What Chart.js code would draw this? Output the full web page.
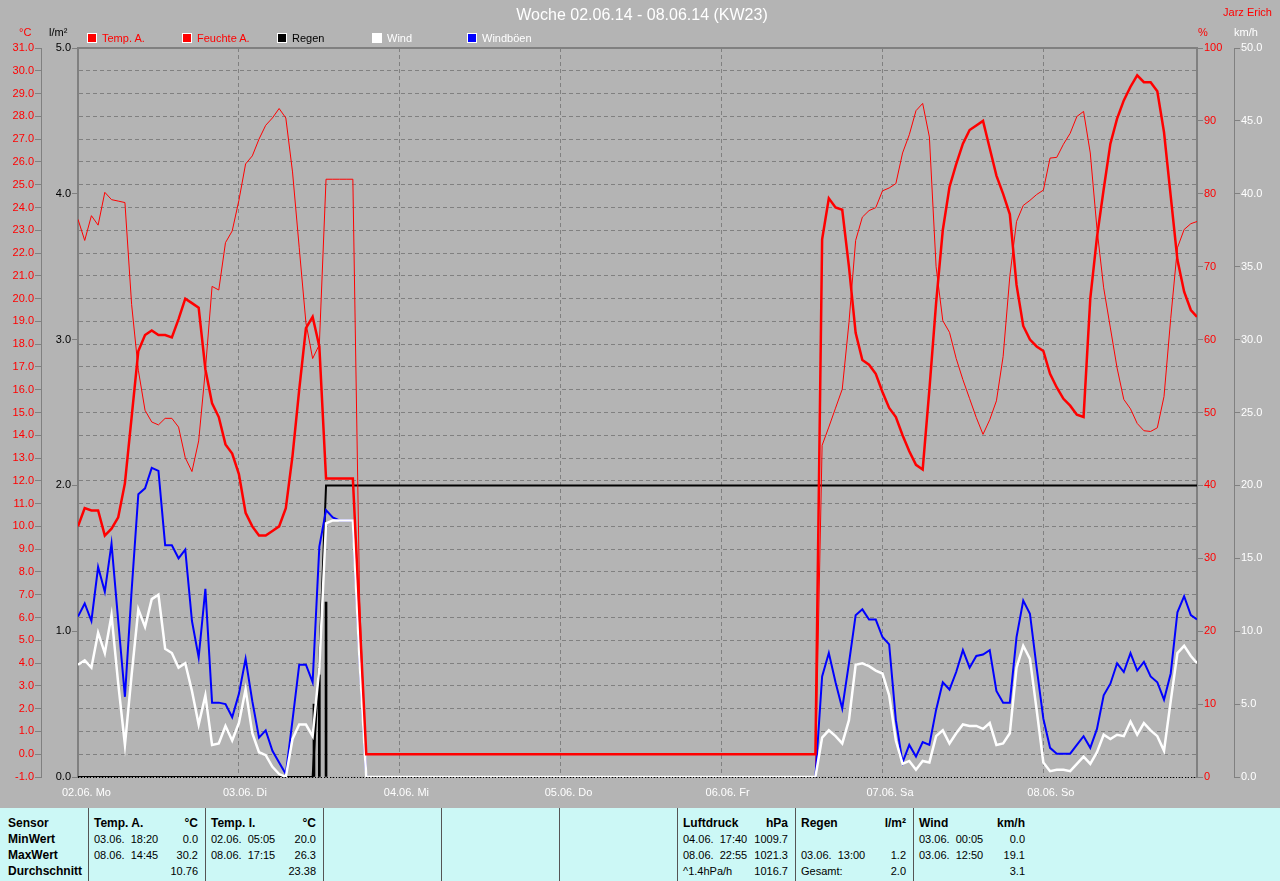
<!DOCTYPE html>
<html><head><meta charset="utf-8">
<script src="https://cdn.jsdelivr.net/npm/chart.js@4/dist/chart.umd.min.js"></script>
<style>
html,body{margin:0;padding:0;background:#b4b4b4;width:1280px;height:881px;overflow:hidden;font-family:"Liberation Sans",Arial,sans-serif;}
#wrap{position:relative;width:1280px;height:881px;}
#c{position:absolute;left:0;top:0;}
.t{position:absolute;white-space:pre;line-height:1;font-size:11px;}
.box{position:absolute;width:8px;height:8px;border:1px solid #fff;top:33px;}
#tbl{position:absolute;left:0;top:808px;width:1280px;height:73px;background:#ccf8f6;}
.col{position:absolute;top:0;height:73px;box-sizing:border-box;border-right:1px solid #555;}
.row{position:absolute;left:6px;right:7px;height:16px;line-height:16px;font-size:11px;color:#000;white-space:pre;}
.row .l{position:absolute;left:0;}
.row .r{position:absolute;right:0;}
.b{font-weight:bold;font-size:12px;}
</style></head>
<body><div id="wrap">
<canvas id="c" width="1280" height="808"></canvas>
<div class="t" style="left:0;width:1284px;text-align:center;top:7px;font-size:16px;color:#fff;">Woche 02.06.14 - 08.06.14 (KW23)</div>
<div class="t" style="right:8px;top:7px;color:#f00;">Jarz Erich</div>
<div class="t" style="left:19px;top:27px;color:#f00;">°C</div>
<div class="t" style="left:49px;top:27px;color:#000;">l/m²</div>
<div class="t" style="left:1198px;top:27px;color:#f00;">%</div>
<div class="t" style="left:1234px;top:27px;color:#fff;">km/h</div>
<div id="legend"></div>
<div id="tbl"></div>
</div>
<script>
// ---- data (hourly samples from 02.06.14 00:00, last sample 08.06.14 22:55) ----
const dayLabels = ['02.06. Mo','03.06. Di','04.06. Mi','05.06. Do','06.06. Fr','07.06. Sa','08.06. So'];
const lastHour = 166.92;
const hours = [];
for (let h = 0; h <= 166; h++) hours.push(h);
hours.push(lastHour);

const tempA = [
10.0,10.8,10.7,10.7,9.6,9.9,10.4,11.9,14.8,17.7,
18.4,18.6,18.4,18.4,18.3,19.1,20.0,19.8,19.6,16.9,
15.4,14.8,13.6,13.2,12.3,10.6,10.0,9.6,9.6,9.8,
10.0,10.8,13.1,16.0,18.7,19.2,17.9,12.1,12.1,12.1,
12.1,12.1,6.0,0,0,0,0,0,0,0,
0,0,0,0,0,0,0,0,0,0,
0,0,0,0,0,0,0,0,0,0,
0,0,0,0,0,0,0,0,0,0,
0,0,0,0,0,0,0,0,0,0,
0,0,0,0,0,0,0,0,0,0,
0,0,0,0,0,0,0,0,0,0,
0,22.6,24.4,24.0,23.9,21.4,18.5,17.3,17.1,16.7,
15.9,15.2,14.8,14.0,13.3,12.7,12.5,16.0,19.8,23.0,
24.9,25.9,26.8,27.4,27.6,27.8,26.6,25.4,24.6,23.7,
20.6,18.8,18.2,17.9,17.7,16.7,16.1,15.6,15.3,14.9,
14.8,20.0,22.7,24.8,26.8,27.9,28.7,29.3,29.8,29.5,
29.5,29.1,27.3,24.5,21.7,20.3,19.5,
19.2];

const humA = [
76.5,73.6,77.0,75.7,80.2,79.2,79.0,78.8,64.8,55.8,
50.3,48.7,48.3,49.2,49.2,48.0,43.8,41.9,46.1,55.8,
67.3,66.8,73.3,74.9,79.1,84.1,85.2,87.5,89.4,90.4,
91.7,90.4,83.0,72.6,62.3,57.4,59.3,82.0,82.0,82.0,
82.0,82.0,25.0,0,0,0,0,0,0,0,
0,0,0,0,0,0,0,0,0,0,
0,0,0,0,0,0,0,0,0,0,
0,0,0,0,0,0,0,0,0,0,
0,0,0,0,0,0,0,0,0,0,
0,0,0,0,0,0,0,0,0,0,
0,0,0,0,0,0,0,0,0,0,
0,45.5,48.0,50.6,53.2,62.3,73.6,76.8,77.7,78.1,
80.4,80.8,81.4,85.6,88.1,91.4,92.4,87.8,70.0,62.6,
61.0,57.4,54.5,51.9,49.3,47.0,49.0,51.6,57.7,68.7,
76.2,78.4,79.1,79.9,80.5,84.9,85.0,86.8,88.3,90.6,
91.3,85.6,75.2,67.1,61.6,56.1,51.8,50.5,48.5,47.5,
47.4,47.9,52.2,62.9,72.6,75.1,75.9,
76.2];

const wind = [
7.7,8.0,7.5,9.9,8.5,11.1,6.4,2.2,7.0,11.5,
10.3,12.2,12.5,8.8,8.5,7.5,7.8,5.9,3.6,5.6,
2.2,2.3,3.5,2.5,3.7,6.0,3.0,1.7,1.5,0.7,
0.2,0.0,2.6,3.6,3.6,2.8,7.5,17.4,17.6,17.6,
17.6,17.6,8.0,0,0,0,0,0,0,0,
0,0,0,0,0,0,0,0,0,0,
0,0,0,0,0,0,0,0,0,0,
0,0,0,0,0,0,0,0,0,0,
0,0,0,0,0,0,0,0,0,0,
0,0,0,0,0,0,0,0,0,0,
0,0,0,0,0,0,0,0,0,0,
0,2.7,3.2,2.8,2.3,3.9,7.7,7.8,7.6,7.3,
7.1,5.6,2.5,0.9,1.1,0.5,1.1,1.0,2.8,3.2,
2.3,3.0,3.6,3.5,3.5,3.3,3.7,2.2,2.3,3.0,
7.5,9.0,8.1,4.6,1.0,0.4,0.5,0.5,0.4,0.9,
1.4,0.9,1.7,2.9,2.6,2.9,2.8,3.8,2.9,3.7,
3.2,2.8,1.8,5.2,8.5,9.0,8.3,
7.8];

const gust = [
11.0,11.9,10.7,14.4,12.7,16.0,10.7,5.5,12.8,19.4,
19.8,21.2,21.0,15.9,15.9,15.0,15.6,10.7,8.2,12.9,
5.1,5.1,5.0,4.1,5.7,8.1,5.2,2.7,3.2,1.8,
1.0,0.2,3.9,7.7,7.7,6.5,15.8,18.3,17.8,17.6,
17.6,17.6,8.0,0,0,0,0,0,0,0,
0,0,0,0,0,0,0,0,0,0,
0,0,0,0,0,0,0,0,0,0,
0,0,0,0,0,0,0,0,0,0,
0,0,0,0,0,0,0,0,0,0,
0,0,0,0,0,0,0,0,0,0,
0,0,0,0,0,0,0,0,0,0,
0,6.9,8.5,6.5,4.7,7.8,11.1,11.5,10.8,10.8,
9.6,9.1,3.9,1.0,2.2,1.4,2.4,2.2,4.6,6.5,
6.0,7.2,8.7,7.5,8.3,8.4,8.7,5.9,5.1,5.1,
9.6,12.1,11.2,7.5,4.0,2.0,1.6,1.6,1.6,2.2,
2.8,2.0,3.3,5.6,6.4,7.8,7.2,8.5,7.3,7.9,
6.9,6.5,5.3,7.1,11.3,12.4,11.1,
10.8];

// cumulative rain (l/m²)
const rainCumHours = [0, 35, 36, 37, lastHour];
const rainCum = [0, 0, 0.8, 2.0, 2.0];
// rain amounts per interval (l/m²)
const rainBarHours = [35.2, 36.0, 37.0];
const rainBars = [0.5, 0.7, 1.2];

// axis tick ranges
const tempTicks = {min: -1, max: 31, step: 1};
const rainTicks = {min: 0, max: 5, step: 1};
const humTicks = {min: 0, max: 100, step: 10};
const windTicks = {min: 0, max: 50, step: 5};

// ---- legend & table ----
const legendItems = [
  {label:'Temp. A.', box:'#ff0000', text:'#ff0000'},
  {label:'Feuchte A.', box:'#ff0000', text:'#ff0000'},
  {label:'Regen', box:'#000000', text:'#000000'},
  {label:'Wind', box:'#ffffff', text:'#ffffff'},
  {label:'Windböen', box:'#0000ff', text:'#ffffff'}
];
const legendEl = document.getElementById('legend');
legendItems.forEach((it, i) => {
  const x = 87 + i * 95;
  const b = document.createElement('div'); b.className = 'box';
  b.style.left = x + 'px'; b.style.background = it.box; legendEl.appendChild(b);
  const t = document.createElement('div'); t.className = 't';
  t.style.left = (x + 15) + 'px'; t.style.top = '33px'; t.style.color = it.text; t.textContent = it.label;
  legendEl.appendChild(t);
});

const tableCols = [
  {x:0, w:88, rows:[['Sensor',''],['MinWert',''],['MaxWert',''],['Durchschnitt','']], boldAll:true},
  {x:88, w:117, rows:[['Temp. A.','°C'],['03.06.  18:20','0.0'],['08.06.  14:45','30.2'],['','10.76']]},
  {x:205, w:118, rows:[['Temp. I.','°C'],['02.06.  05:05','20.0'],['08.06.  17:15','26.3'],['','23.38']]},
  {x:323, w:118, rows:[]},
  {x:441, w:118, rows:[]},
  {x:559, w:118, rows:[]},
  {x:677, w:118, rows:[['Luftdruck','hPa'],['04.06.  17:40','1009.7'],['08.06.  22:55','1021.3'],['^1.4hPa/h','1016.7']]},
  {x:795, w:118, rows:[['Regen','l/m²'],['',''],['03.06.  13:00','1.2'],['Gesamt:','2.0']]},
  {x:913, w:118, rows:[['Wind','km/h'],['03.06.  00:05','0.0'],['03.06.  12:50','19.1'],['','3.1']], noBorder:true}
];
const tbl = document.getElementById('tbl');
tableCols.forEach(c => {
  const d = document.createElement('div'); d.className = 'col';
  d.style.left = c.x + 'px'; d.style.width = (c.w + 1) + 'px';
  if (c.noBorder) d.style.borderRight = 'none';
  c.rows.forEach((r, i) => {
    const row = document.createElement('div'); row.className = 'row';
    row.style.top = (7 + i * 16) + 'px';
    if (c.x === 0) row.style.left = '8px';
    const l = document.createElement('span'); l.className = 'l'; l.textContent = r[0];
    const rr = document.createElement('span'); rr.className = 'r'; rr.textContent = r[1];
    if (c.boldAll || i === 0) { l.classList.add('b'); rr.classList.add('b'); }
    row.appendChild(l); row.appendChild(rr); d.appendChild(row);
  });
  tbl.appendChild(d);
});

// ---- chart ----
const pts = (xs, ys) => xs.map((x, i) => ({x, y: ys[i]}));
const GRID = '#808080';
const font = {family: '"Liberation Sans", Arial, sans-serif', size: 11};

const framePlugin = {
  id: 'frame',
  afterDraw(chart) {
    const {ctx, chartArea: a} = chart;
    ctx.save();
    ctx.strokeStyle = GRID; ctx.lineWidth = 2;
    ctx.beginPath(); ctx.moveTo(a.left - 1, a.top); ctx.lineTo(a.right + 1, a.top); ctx.stroke();
    ctx.strokeStyle = '#000'; ctx.lineWidth = 1; ctx.setLineDash([1, 2]);
    ctx.beginPath(); ctx.moveTo(a.left, a.bottom + 0.5); ctx.lineTo(a.right, a.bottom + 0.5); ctx.stroke();
    ctx.restore();
  }
};

const yAxis = (pos, weight, rng, width, color, fmt, opts = {}) => Object.assign({
  type: 'linear', position: pos, weight, min: rng.min, max: rng.max,
  afterFit: s => { s.width = width; },
  ticks: {stepSize: rng.step, autoSkip: false, color, font, padding: 1, callback: fmt},
  grid: {drawOnChartArea: false, drawTicks: true, tickLength: 6, tickColor: GRID, color: GRID},
  border: {display: true, color: GRID, width: 1}
}, opts);

new Chart(document.getElementById('c'), {
  type: 'line',
  data: {
    datasets: [
      {label: 'Temp. A.', data: pts(hours, tempA), yAxisID: 'yT', borderColor: '#ff0000', borderWidth: 2.5, pointRadius: 0, tension: 0},
      {label: 'Wind', data: pts(hours, wind), yAxisID: 'yW', borderColor: '#ffffff', borderWidth: 2.5, pointRadius: 0, tension: 0},
      {label: 'Windböen', data: pts(hours, gust), yAxisID: 'yW', borderColor: '#0000ff', borderWidth: 2, pointRadius: 0, tension: 0},
      {label: 'Feuchte A.', data: pts(hours, humA), yAxisID: 'yH', borderColor: '#ff0000', borderWidth: 1, pointRadius: 0, tension: 0},
      {type: 'bar', label: 'Regen', data: pts(rainBarHours, rainBars), yAxisID: 'yR', backgroundColor: '#000000', barThickness: 2},
      {label: 'Regen', data: pts(rainCumHours, rainCum), yAxisID: 'yR', borderColor: '#000000', borderWidth: 2, pointRadius: 0, tension: 0}
    ]
  },
  options: {
    responsive: false, animation: false, devicePixelRatio: 1,
    layout: {padding: {top: 48, left: 0, right: 0, bottom: 0}},
    plugins: {legend: {display: false}, tooltip: {enabled: false}},
    scales: {
      x: {
        type: 'linear', min: 0, max: lastHour, offset: false,
        afterFit: s => { s.height = 31; },
        ticks: {stepSize: 24, autoSkip: false, maxRotation: 0, minRotation: 0, color: '#ffffff', font,
                align: 'start', labelOffset: -16, padding: 9,
                callback: v => (v % 24 === 0 && dayLabels[v / 24]) ? dayLabels[v / 24] : ''},
        grid: {color: GRID, drawTicks: false, lineWidth: 1, offset: false},
        border: {display: false, dash: [4, 3]}
      },
      yT: yAxis('left', 2, tempTicks, 41, '#ff0000', v => v.toFixed(1),
        {grid: {drawOnChartArea: true, drawTicks: true, tickLength: 6, tickColor: GRID, color: GRID},
         border: {display: true, color: GRID, width: 1, dash: [4, 3]}}),
      yR: yAxis('left', 1, rainTicks, 37, '#000000', v => v.toFixed(1),
        {border: {display: true, color: GRID, width: 2}}),
      yH: yAxis('right', 1, humTicks, 37, '#ff0000', v => String(v),
        {border: {display: true, color: GRID, width: 2}}),
      yW: yAxis('right', 2, windTicks, 46, '#ffffff', v => v.toFixed(1))
    }
  },
  plugins: [framePlugin]
});
</script>
</body></html>
